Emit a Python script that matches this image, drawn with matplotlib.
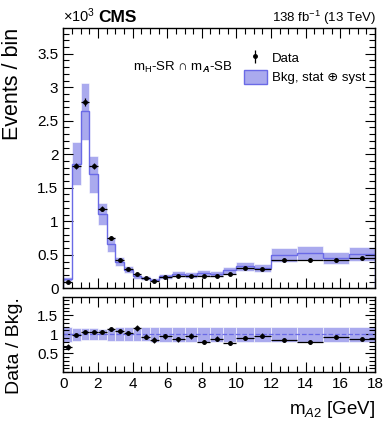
import numpy as np
import matplotlib
matplotlib.use("Agg")
import matplotlib.pyplot as plt
from matplotlib.patches import Patch
from matplotlib.ticker import MultipleLocator

plt.rcParams['font.family'] = ['Liberation Sans', 'DejaVu Sans']
plt.rcParams['mathtext.fontset'] = 'custom'
plt.rcParams['mathtext.rm'] = 'Liberation Sans'
plt.rcParams['mathtext.it'] = 'Liberation Sans:italic'
plt.rcParams['mathtext.bf'] = 'Liberation Sans:bold'
plt.rcParams['mathtext.bfit'] = 'Liberation Sans:italic:bold'

# ---- data (x 10^3 events) ----
bin_edges = [0, 0.5, 1, 1.5, 2, 2.5, 3, 3.5, 4, 4.5, 5, 5.5, 6.25, 7, 7.75,
             8.5, 9.25, 10, 11, 12, 13.5, 15, 16.5, 18]
data_vals = [0.09, 1.82, 2.78, 1.82, 1.19, 0.75, 0.43, 0.29, 0.21, 0.15, 0.11,
             0.17, 0.19, 0.19, 0.18, 0.19, 0.21, 0.30, 0.29, 0.42, 0.42, 0.42, 0.45]
data_errs = [0.010, 0.043, 0.053, 0.043, 0.034, 0.027, 0.021, 0.017, 0.015,
             0.012, 0.010, 0.013, 0.014, 0.014, 0.013, 0.014, 0.015, 0.017,
             0.017, 0.020, 0.020, 0.020, 0.021]
bkg_vals = [0.135, 1.86, 2.64, 1.70, 1.11, 0.66, 0.40, 0.28, 0.18, 0.16, 0.13,
            0.18, 0.22, 0.20, 0.225, 0.215, 0.27, 0.33, 0.30, 0.50, 0.53, 0.45, 0.51]
bkg_rel_unc = [0.20, 0.17, 0.16, 0.16, 0.15, 0.17, 0.18, 0.18, 0.19, 0.19, 0.20,
               0.20, 0.20, 0.20, 0.20, 0.20, 0.20, 0.20, 0.20, 0.20, 0.20, 0.20, 0.20]

edges = np.array(bin_edges)
data = np.array(data_vals)
derr = np.array(data_errs)
bkg = np.array(bkg_vals)
rel = np.array(bkg_rel_unc)
centers = 0.5 * (edges[:-1] + edges[1:])
widths = np.diff(edges)
halfw = widths / 2

band_col = '#aaaaee'
line_col = '#6a6ae6'

fig = plt.figure(figsize=(3.89, 4.23), dpi=100)
ax = fig.add_axes([0.1627, 0.3184, 0.8013, 0.6147])
rax = fig.add_axes([0.1627, 0.1199, 0.8013, 0.1780])

# main panel
ax.bar(edges[:-1], 2 * rel * bkg, width=widths, bottom=bkg * (1 - rel),
       align='edge', color=band_col, edgecolor='white', linewidth=0.4, zorder=1)
ax.stairs(bkg, edges, color=line_col, linewidth=1.0, zorder=2)
ax.errorbar(centers, data, xerr=halfw, yerr=derr, fmt='o', color='black',
            markersize=2.5, elinewidth=0.9, capsize=0, zorder=3)

ax.set_xlim(0, 18)
ax.set_ylim(0, 3.88)
ax.xaxis.set_major_locator(MultipleLocator(2))
ax.xaxis.set_minor_locator(MultipleLocator(0.5))
ax.yaxis.set_minor_locator(MultipleLocator(0.1))
ax.set_yticks([0, 0.5, 1, 1.5, 2, 2.5, 3, 3.5])
ax.set_yticklabels(['0', '0.5', '1', '1.5', '2', '2.5', '3', '3.5'])
ax.tick_params(axis='x', labelbottom=False)

for a in (ax, rax):
    a.tick_params(which='both', direction='in', top=True, right=True,
                  labelsize=11, width=0.8)
    a.tick_params(which='major', length=7)
    a.tick_params(which='minor', length=4)
    for s in a.spines.values():
        s.set_linewidth(1.0)

ax.set_ylabel('Events / bin', fontsize=15.5, loc='top', labelpad=10)

fig.text(0.1627, 0.948, r'$\times$10$^3$', fontsize=10.5, ha='left', va='baseline')
fig.text(0.252, 0.948, 'CMS', fontsize=12.5, fontweight='bold', ha='left', va='baseline')
fig.text(0.9666, 0.948, r'138 fb$^{-1}$ (13 TeV)', fontsize=9.5, ha='right', va='baseline')

ax.text(0.224, 0.851, r'm$_\mathrm{H}$-SR ∩ m$_{\mathbfit{A}}$-SB', transform=ax.transAxes,
        fontsize=9.5, ha='left', va='center')

h_data = ax.errorbar([], [], yerr=[], fmt='o', color='black', markersize=2.5,
                     elinewidth=0.9)
h_bkg = Patch(facecolor=band_col, edgecolor=line_col, linewidth=1.0)
ax.legend([h_data, h_bkg], ['Data', 'Bkg, stat ⊕ syst'], loc='upper right',
          bbox_to_anchor=(1.0, 0.95), frameon=False, fontsize=9.5,
          handlelength=1.75, handleheight=1.2, borderpad=0.2, labelspacing=0.4,
          handletextpad=0.4)

# ratio panel
ratio = data / bkg
rerr = derr / bkg
rax.bar(edges[:-1], 2 * rel, width=widths, bottom=1 - rel, align='edge',
        color=band_col, edgecolor='white', linewidth=0.4, zorder=1)
rax.axhline(1.0, color=line_col, linestyle='--', linewidth=0.9, zorder=2)
rax.errorbar(centers, ratio, xerr=halfw, yerr=rerr, fmt='o', color='black',
             markersize=2.5, elinewidth=0.9, capsize=0, zorder=3)
rax.set_xlim(0, 18)
rax.set_ylim(0, 1.98)
rax.xaxis.set_minor_locator(MultipleLocator(0.5))
rax.set_yticks([0.5, 1, 1.5])
rax.set_yticklabels(['0.5', '1', '1.5'])
rax.yaxis.set_minor_locator(MultipleLocator(0.1))
rax.set_ylabel('Data / Bkg.', fontsize=14, loc='top', labelpad=10)
rax.set_xlabel(r'm$_{A2}$ [GeV]', fontsize=13.5, loc='right', labelpad=6)
rax.set_xticks([0, 2, 4, 6, 8, 10, 12, 14, 16, 18])
rax.set_xticklabels(['0', '2', '4', '6', '8', '10', '12', '14', '16', '18'])

fig.savefig('out.png', dpi=100)
